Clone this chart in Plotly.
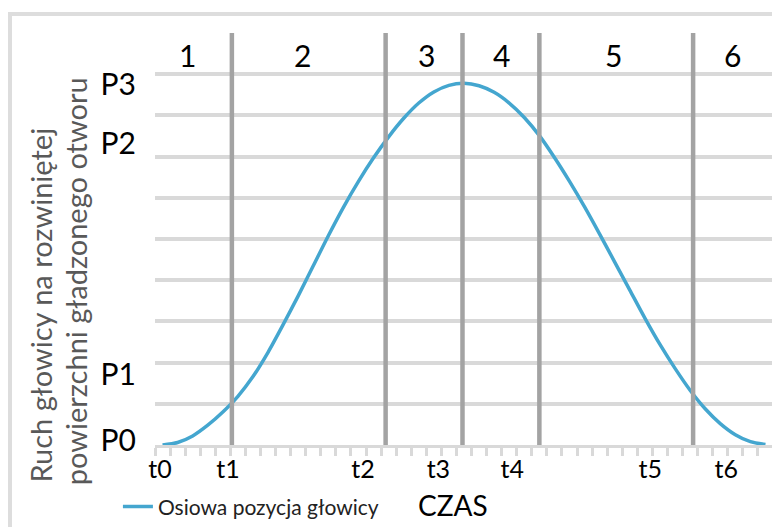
import numpy as np
import plotly.graph_objects as go

# ---- data ----
time_index = list(range(41))
axial_position = [0.00, 0.06, 0.22, 0.48, 0.80, 1.18, 1.66, 2.25, 2.92, 3.62,
                  4.35, 5.08, 5.77, 6.40, 6.97, 7.48, 7.93, 8.30, 8.57, 8.73,
                  8.78, 8.72, 8.56, 8.30, 7.95, 7.51, 6.98, 6.40, 5.78, 5.12,
                  4.44, 3.76, 3.08, 2.44, 1.86, 1.33, 0.88, 0.52, 0.25, 0.08, 0.01]

t_labels = ["t0", "t1", "t2", "t3", "t4", "t5", "t6"]
t_label_pos = [-0.17, 4.35, 13.3, 18.3, 23.2, 32.35, 37.4]

phase_boundaries = [4.6, 14.8, 19.9, 25.0, 35.2]
phase_labels = ["1", "2", "3", "4", "5", "6"]
phase_label_pos = [1.68, 9.26, 17.5, 22.5, 29.9, 37.8]
phase_label_level = 9.47

p_labels = ["P0", "P1", "P2", "P3"]
p_levels = [0.12, 1.70, 7.33, 8.74]

series_name = "Osiowa pozycja głowicy"
x_title = "CZAS"
y_title_lines = ["Ruch głowicy na rozwiniętej", "powierzchni gładzonego otworu"]

FONT = "Lato"
GRID = "#D9D9D9"

fig = go.Figure()
fig.add_trace(go.Scatter(
    x=time_index, y=axial_position, mode="lines", name=series_name,
    line=dict(color="#44A6CF", width=3.5, shape="spline", smoothing=0.8),
))

for b in phase_boundaries:
    fig.add_shape(type="line", xref="x", yref="paper", x0=b, x1=b, y0=0, y1=1,
                  line=dict(color="#A3A3A3", width=4.5), layer="above")

for lab, xp in zip(phase_labels, phase_label_pos):
    fig.add_annotation(x=xp, y=phase_label_level, xref="x", yref="y", text=lab,
                       showarrow=False, font=dict(family=FONT, size=30, color="black"))

# chart frame
fig.add_shape(type="rect", xref="paper", yref="paper",
              x0=-0.2346, x1=1.3, y0=-0.6, y1=1.046,
              line=dict(color="#DDDDDD", width=4), layer="below")

fig.add_annotation(x=0.482, y=-0.146, xref="paper", yref="paper", text=x_title,
                   xanchor="center", yanchor="middle",
                   showarrow=False, font=dict(family=FONT, size=28, color="black"))

fig.add_annotation(x=-0.186, y=-0.097, xref="paper", yref="paper", text=y_title_lines[0],
                   textangle=-90, xanchor="center", yanchor="bottom", showarrow=False,
                   font=dict(family=FONT, size=29, color="#595959"))
fig.add_annotation(x=-0.129, y=-0.102, xref="paper", yref="paper", text=y_title_lines[1],
                   textangle=-90, xanchor="center", yanchor="bottom", showarrow=False,
                   font=dict(family=FONT, size=29, color="#595959"))

fig.update_layout(
    width=780, height=527,
    margin=dict(l=147, r=15, t=25, b=90, autoexpand=False),
    paper_bgcolor="white", plot_bgcolor="white",
    showlegend=True,
    legend=dict(x=-0.06, y=-0.15, xanchor="left", yanchor="middle",
                font=dict(family=FONT, size=21, color="#222222"),
                bgcolor="rgba(0,0,0,0)"),
    xaxis=dict(range=[-0.5, 40.5], showgrid=False, zeroline=False,
               tickmode="array", tickvals=t_label_pos, ticktext=t_labels, ticks="",
               tickfont=dict(family=FONT, size=25, color="black"),
               showline=True, linecolor=GRID, linewidth=3,
               minor=dict(tickmode="linear", tick0=-0.5, dtick=1, ticks="outside",
                          ticklen=8, tickwidth=3, tickcolor=GRID, showgrid=False)),
    yaxis=dict(range=[0, 10], showgrid=False, zeroline=False,
               tickmode="array", tickvals=p_levels, ticktext=p_labels, ticks="",
               tickfont=dict(family=FONT, size=30, color="black"),
               ticklabelstandoff=18,
               minor=dict(tickmode="linear", tick0=0, dtick=1, showgrid=True,
                          gridcolor=GRID, gridwidth=3.5, ticks="")),
)

fig.write_html("out.html")
